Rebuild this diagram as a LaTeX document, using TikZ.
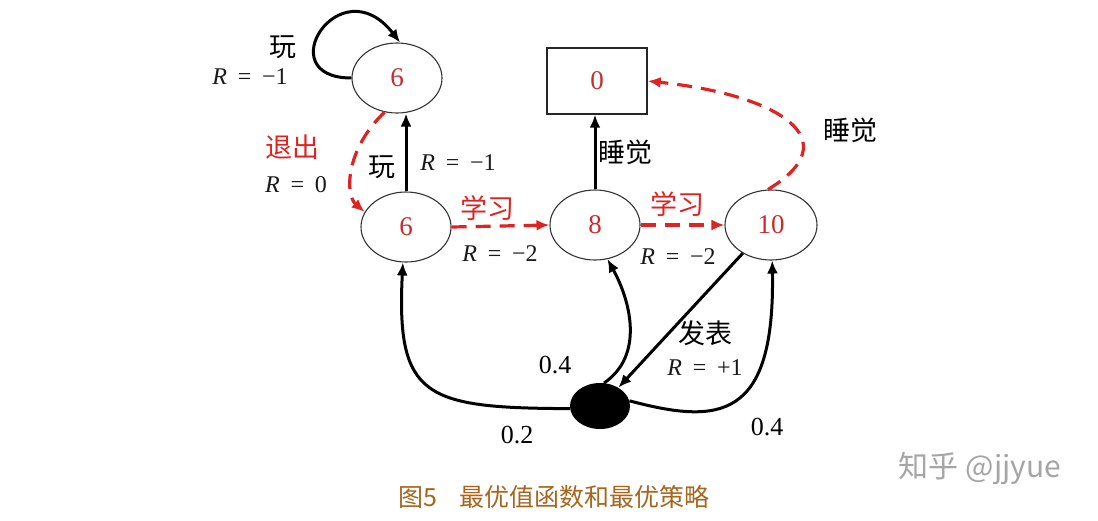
\documentclass[tikz,border=0pt]{standalone}
\usepackage{fontspec}
\setmainfont{Liberation Serif}
\newfontfamily\cjk{Noto Sans CJK SC}
\usetikzlibrary{shapes.geometric,arrows.meta}
\definecolor{myred}{RGB}{222,35,35}
\definecolor{numred}{RGB}{200,45,45}
\definecolor{capcol}{RGB}{166,102,30}
\definecolor{wmcol}{RGB}{165,165,165}
\newcommand{\rlab}[2]{\textit{R}\hspace{0.45em}#1\hspace{0.45em}#2}
\tikzset{
  st/.style={ellipse,draw=black!80,line width=1.1pt,minimum width=90pt,minimum height=70pt,inner sep=0pt,text=numred,font=\fontsize{27}{29}\selectfont},
  term/.style={rectangle,draw=black!85,line width=1.3pt,minimum width=100pt,minimum height=66pt,inner sep=0pt,text=numred,font=\fontsize{27}{29}\selectfont},
  blk/.style={line width=3pt,-{Latex[length=13pt,width=11pt]}},
  rdash/.style={myred,line width=3.2pt,dash pattern=on 15pt off 9pt,-{Latex[length=13pt,width=11pt]}},
  cj/.style={font=\cjk\fontsize{27}{29}\selectfont},
  cjr/.style={font=\cjk\fontsize{27}{29}\selectfont,text=myred},
  rl/.style={font=\fontsize{24}{26}\selectfont,text=black!90},
  pl/.style={font=\fontsize{26}{28}\selectfont},
}
\begin{document}
\begin{tikzpicture}[x=1pt,y=-1pt]
\useasboundingbox[fill=white] (0,0) rectangle (1098,520);
% states
\node[st] (t6) at (397,78) {6};
\node[st] (m6) at (406,227) {6};
\node[st] (s8) at (595,225) {8};
\node[st,minimum width=92pt] (s10) at (771,225) {10};
\node[term] (box) at (597,81) {0};
\node[ellipse,fill=black,minimum width=60pt,minimum height=46pt,inner sep=0pt] (dot) at (600,406) {};
% edges
\draw[blk] (t6.180) .. controls (268,78) and (340,-35) .. (t6.85);
\draw[rdash] (t6.250) .. controls (345,150) and (345,195) .. (m6.160);
\draw[blk] (m6.north) -- (m6.north |- t6.south);
\draw[rdash] (m6.east) -- (s8.west);
\draw[rdash] (s8.east) -- (s10.west);
\draw[blk] (s8.north) -- (s8.north |- box.south);
\draw[rdash] (s10.95) .. controls (850,140) and (780,95) .. (box.east);
\draw[blk] (s10.225) -- (dot.45);
\draw[blk] (dot.185) .. controls (425,408) and (396,398) .. (m6.265);
\draw[blk] (dot.80) .. controls (645,355) and (630,300) .. (s8.290);
\draw[blk] (dot.10) .. controls (720,425) and (775,420) .. (s10.272);
% labels
\node[cj] (l1) at (283,47) {玩};
\node[rl] (l2) at (250,77) {\rlab{=}{−1}};
\node[cjr] (l3) at (292,147) {退出};
\node[rl] (l4) at (296,185) {\rlab{=}{0}};
\node[cj] (l5) at (382,167) {玩};
\node[rl] (l6) at (458,163) {\rlab{=}{−1}};
\node[cjr] (l7) at (487,208) {学习};
\node[rl] (l8) at (500,254) {\rlab{=}{−2}};
\node[cjr] (l9) at (677,204) {学习};
\node[rl] (l10) at (678,257) {\rlab{=}{−2}};
\node[cj] (l11) at (625,152) {睡觉};
\node[cj] (l12) at (850,130) {睡觉};
\node[cj] (l13) at (705,333) {发表};
\node[rl] (l14) at (705,368) {\rlab{=}{+1}};
\node[pl] (l15) at (555,365) {0.4};
\node[pl] (l16) at (517,435) {0.2};
\node[pl] (l17) at (767,427) {0.4};
% caption and watermark
\node[font=\cjk\fontsize{25}{27}\selectfont,text=capcol] (cap) at (554,497) {图5\hspace{0.9em}最优值函数和最优策略};
\node[font=\cjk\fontsize{30}{32}\selectfont,text=wmcol] (wm) at (980,469) {知乎 @jjyue};
\end{tikzpicture}
\end{document}
